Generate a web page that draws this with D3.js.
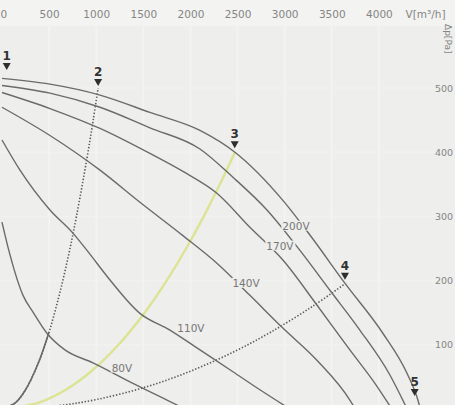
<!DOCTYPE html>
<html>
<head>
<meta charset="utf-8">
<script src="https://cdn.jsdelivr.net/npm/d3@7"></script>
<style>
  html, body { margin: 0; padding: 0; background: #efefed; }
  svg { display: block; }
</style>
</head>
<body>
<script>
// Fan characteristic: static pressure Δp over air flow V at several supply voltages.
const flowTicks = [0, 500, 1000, 1500, 2000, 2500, 3000, 3500, 4000];
const flowUnit = "V[m³/h]";
const pressureTicks = [100, 200, 300, 400, 500];
const pressureUnit = "Δp[Pa]";

// Speed curves as [V m³/h, Δp Pa]
const curveMax = [[0,515],[509,506],[1040,489],[1570,462],[2101,434],[2472,400],[2981,325],[3268,271],[3639,196],[4042,118],[4297,56],[4414,14],[4440,0]];
const curve200 = [[0,504],[509,492],[1040,470],[1570,438],[2101,405],[2451,361],[2812,310],[3162,247],[3480,185],[3798,123],[4117,53],[4300,0]];
const curve170 = [[0,493],[509,468],[1040,437],[1570,398],[1920,370],[2281,336],[2631,283],[2981,232],[3342,162],[3692,92],[3958,40],[4138,0]];
const curve140 = [[0,470],[509,426],[1040,372],[1464,322],[1920,270],[2281,227],[2631,177],[2981,126],[3342,76],[3692,14],[3750,0]];
const curve110 = [[0,419],[191,372],[509,310],[753,274],[902,247],[1146,201],[1464,149],[1782,123],[2101,92],[2451,58],[2737,30],[3056,0]];
const curve80  = [[0,291],[85,240],[223,177],[329,151],[477,118],[668,92],[966,72],[1390,40],[1751,14],[1942,0]];

const speedNames = ["", "200V", "170V", "140V", "110V", "80V"];
// label anchors [V, Δp]
const speedLabelAt = [null, [3120,285], [2950,254], [2590,196], [2005,126], [1273,64]];

// System resistance lines through operating points 2, 3, 4
const system2 = [[0,0],[144,10],[250,30],[381,70],[500,120],[612,180],[707,240],[790,300],[901,390],[968,450],[1020,500]];
const system3 = [[0,0],[391,10],[677,30],[957,60],[1236,100],[1514,150],[1748,200],[1954,250],[2141,300],[2312,350],[2472,400]];
const system4 = [[0,0],[583,5],[1010,15],[1542,35],[2019,60],[2473,90],[2855,120],[3297,160],[3640,195]];

// Operating points on the maximum curve
const pointNames = ["1", "2", "3", "4", "5"];
const pointFlow = [50, 1020, 2470, 3640, 4380];
const pointPressure = [522, 497, 400, 195, 14];

const W = 455, H = 405;
const svg = d3.select("body").append("svg").attr("width", W).attr("height", H);

const x = d3.scaleLinear().domain([0, 4500]).range([2, 426]);
const y = d3.scaleLinear().domain([0, 500]).range([409, 88]);

const axisFont = "DejaVu Sans, sans-serif";

// background
svg.append("rect").attr("width", W).attr("height", H).attr("fill", "#eeeeec");
svg.append("rect").attr("width", W).attr("height", 26).attr("fill", "#f3f3f1");

// faint grid
svg.append("g").selectAll("line").data(flowTicks.slice(1)).join("line")
  .attr("x1", d => x(d)).attr("x2", d => x(d)).attr("y1", 26).attr("y2", H)
  .attr("stroke", "#f3f3f1").attr("stroke-width", 2);
svg.append("g").selectAll("line").data(pressureTicks).join("line")
  .attr("x1", 0).attr("x2", W).attr("y1", d => y(d)).attr("y2", d => y(d))
  .attr("stroke", "#f1f1ef").attr("stroke-width", 1.5);

// top flow axis
const topAxis = d3.axisTop(x).tickValues(flowTicks.concat([4500]))
  .tickSize(0).tickPadding(0)
  .tickFormat(d => d === 4500 ? flowUnit : String(d));
const gTop = svg.append("g").attr("transform", "translate(0,18)").call(topAxis);
gTop.select(".domain").remove();
gTop.selectAll("text").attr("font-family", axisFont)
  .attr("font-size", 10.5).attr("fill", "#858585")
  .attr("text-anchor", d => d === 4500 || d === 0 ? "start" : "middle")
  .attr("dx", d => d === 4500 ? -21 : (d === 0 ? -2 : 0));

// right pressure axis
const rightAxis = d3.axisRight(y).tickValues(pressureTicks).tickSize(0).tickPadding(0);
const gRight = svg.append("g").attr("transform", "translate(435,0)").call(rightAxis);
gRight.select(".domain").remove();
gRight.selectAll("text").attr("font-family", axisFont)
  .attr("font-size", 9.5).attr("fill", "#858585");
svg.append("text").attr("transform", "translate(445,24) rotate(90)")
  .attr("font-family", axisFont)
  .attr("font-size", 9).attr("fill", "#858585").text(pressureUnit);

const line = d3.line().x(d => x(d[0])).y(d => y(d[1])).curve(d3.curveMonotoneX);
const sysLine = d3.line().x(d => x(d[0])).y(d => y(d[1])).curve(d3.curveCatmullRom);

// system lines
svg.append("path").datum(system3).attr("d", sysLine).attr("fill", "none")
  .attr("stroke", "#d9e28a").attr("stroke-width", 2.4).attr("opacity", 0.9);
svg.append("path").datum(system2).attr("d", sysLine).attr("fill", "none")
  .attr("stroke", "#5a5a5a").attr("stroke-width", 1.6).attr("stroke-dasharray", "1.4,1.8");
svg.append("path").datum(system2.filter(d => d[0] <= 500)).attr("d", sysLine).attr("fill", "none")
  .attr("stroke", "#6a6a6a").attr("stroke-width", 1.6);
svg.append("path").datum(system4).attr("d", sysLine).attr("fill", "none")
  .attr("stroke", "#5a5a5a").attr("stroke-width", 1.6).attr("stroke-dasharray", "1.4,1.8");

// speed curves
const curves = [curveMax, curve200, curve170, curve140, curve110, curve80];
svg.append("g").selectAll("path").data(curves).join("path")
  .attr("d", line).attr("fill", "none").attr("stroke", "#6b6b6b").attr("stroke-width", 1.4);

// curve labels with background patch
const labels = svg.append("g");
speedNames.forEach((name, i) => {
  if (!name) return;
  const [lv, lp] = speedLabelAt[i];
  const t = labels.append("text").attr("x", x(lv)).attr("y", y(lp)).attr("dy", "0.35em")
    .attr("text-anchor", "middle")
    .attr("font-family", "DejaVu Sans, sans-serif").attr("font-size", 10.5)
    .attr("fill", "#777").text(name);
  const bb = t.node().getBBox();
  labels.insert("rect", "text").attr("x", bb.x - 1).attr("y", bb.y + 1)
    .attr("width", bb.width + 2).attr("height", bb.height - 2).attr("fill", "#eeeeec");
});

// operating point markers
const markers = svg.append("g");
pointNames.forEach((n, i) => {
  const px = x(pointFlow[i]), py = y(pointPressure[i]);
  markers.append("path")
    .attr("d", `M${px - 4},${py - 11}L${px + 4},${py - 11}L${px},${py - 4}Z`)
    .attr("fill", "#2e2e2e");
  markers.append("text").attr("x", px).attr("y", py - 14).attr("text-anchor", "middle")
    .attr("font-family", "DejaVu Sans, sans-serif").attr("font-weight", "bold")
    .attr("font-size", 12).attr("fill", "#333").text(n);
});
</script>
</body>
</html>
